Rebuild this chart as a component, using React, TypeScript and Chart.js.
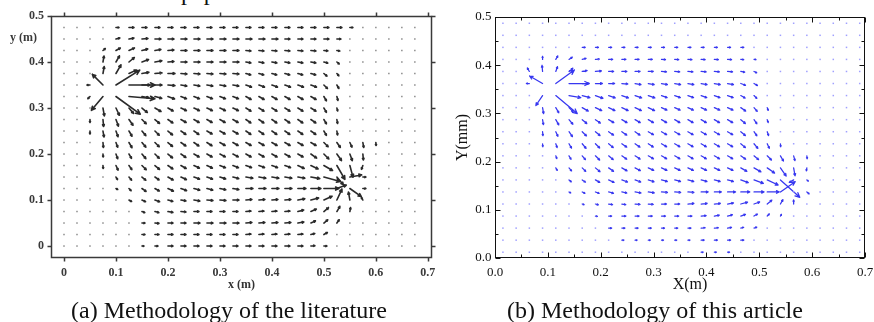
import React, { useEffect, useRef } from 'react';
import { Chart, registerables } from 'chart.js';
Chart.register(...registerables);

// ---------------- data: panel (a) ----------------
const LEFT_X = [0, 0.025, 0.05, 0.075, 0.1, 0.125, 0.15, 0.175, 0.2, 0.225, 0.25, 0.275, 0.3, 0.325, 0.35, 0.375, 0.4, 0.425, 0.45, 0.475, 0.5, 0.525, 0.55, 0.575, 0.6, 0.625, 0.65, 0.675];
const LEFT_Y = [0.475, 0.45, 0.425, 0.4, 0.375, 0.35, 0.325, 0.3, 0.275, 0.25, 0.225, 0.2, 0.175, 0.15, 0.125, 0.1, 0.075, 0.05, 0.025, 0];
// each token: direction (deg, counter-clockwise from +x) / magnitude ; "." = negligible
const LEFT_ROWS = [
  '. . . . 0/3 0/5 0/5 0/5 0/5 0/5 0/5 0/5 0/5 0/5 0/5 0/5 0/5 0/5 0/5 0/5 0/5 0/5 0/3 . . . . .',
  '. . . . 15/4 10/5 5/6 0/6 0/6 0/6 0/6 0/6 0/6 0/6 0/6 0/6 0/6 0/5 0/5 0/5 0/5 0/4 . . . . . .',
  '. . . 40/3 30/5 25/6 15/6 10/6 5/6 0/6 0/6 0/6 0/6 0/6 -5/5 -5/5 -5/5 -5/5 -5/5 -5/5 -5/4 -10/3 . . . . . .',
  '. . . 80/6 60/7 40/7 20/7 10/7 5/6 0/6 0/6 0/6 0/6 0/6 -10/5 -10/5 -10/5 -10/5 -10/5 -10/5 -15/4 -40/3 . . . . . .',
  '. . . 80/7 60/10 25/8 10/7 5/7 0/7 -5/6 -5/6 -5/6 -5/6 -5/6 -15/5 -15/5 -15/5 -15/5 -15/5 -15/5 -40/4 -50/3 . . . . . .',
  '. . 180/3 135/15 32/28 0/26 0/8 0/7 -5/7 -10/6 -10/6 -10/6 -10/6 -10/6 -20/6 -20/6 -20/6 -20/6 -20/6 -20/6 -45/5 -60/4 . . . . . .',
  '. . 225/3 230/18 -36/30 -5/26 -10/7 -15/7 -20/7 -22/6 -22/6 -22/6 -22/6 -22/6 -30/6 -30/6 -30/6 -30/6 -30/6 -30/6 -60/5 -75/4 . . . . . .',
  '. . . -80/8 -65/8 -50/7 -40/7 -30/7 -30/6 -25/6 -25/6 -25/6 -25/6 -25/6 -32/6 -32/6 -32/6 -32/6 -32/6 -32/6 -60/5 -75/3 . . . . . .',
  '. . -90/3 -85/7 -70/7 -55/7 -45/6 -40/6 -35/6 -30/6 -30/6 -30/6 -30/6 -30/6 -35/6 -35/6 -35/6 -35/6 -35/6 -35/6 -60/5 -80/4 . . . . . .',
  '. . -90/3 -80/6 -70/6 -60/6 -50/6 -45/6 -40/6 -35/6 -35/6 -30/6 -30/6 -30/6 -35/6 -35/6 -35/6 -35/6 -35/6 -35/6 -60/5 -80/4 . . . . . .',
  '. . . -85/5 -70/5 -60/6 -50/6 -45/6 -40/6 -35/6 -35/6 -33/6 -30/6 -30/6 -30/6 -30/6 -30/6 -30/6 -30/6 -30/6 -45/6 -55/6 -65/5 -80/5 -85/3 . . .',
  '. . . -85/3 -70/5 -60/5 -50/6 -45/6 -40/6 -35/6 -30/6 -30/6 -28/6 -28/6 -30/6 -30/6 -30/6 -30/6 -30/6 -35/7 -45/7 -55/8 -70/7 -85/6 . . . .',
  '. . . -85/3 -65/5 -55/5 -45/6 -40/6 -35/6 -30/6 -25/6 -25/6 -22/6 -22/6 -20/6 -20/6 -20/6 -20/6 -25/7 -25/8 -30/10 -60/16 -75/12 -110/4 . . . .',
  '. . . . -60/3 -50/4 -40/5 -35/5 -30/6 -25/6 -20/6 -20/6 -18/6 -15/6 -10/7 -10/7 -10/7 -10/7 -10/7 -10/9 -15/17 -50/10 10/12 0/3 . . . .',
  '. . . . -30/2 -45/3 -35/5 -30/5 -25/6 -20/6 -15/6 -15/6 -12/6 -10/6 0/7 0/7 0/7 0/7 0/8 0/10 0/15 20/10 -35/14 0/3 . . . .',
  '. . . . . -30/3 -25/4 -20/5 -15/5 -10/5 -10/6 -5/6 -5/6 0/6 5/6 5/6 5/6 5/6 10/7 15/8 25/9 65/12 100/8 120/3 . . . .',
  '. . . . . . -20/3 -15/4 -10/5 -5/5 0/5 0/5 0/5 0/5 5/5 5/5 5/5 5/5 15/6 25/6 40/6 60/6 80/4 . . . . .',
  '. . . . . . 0/3 -5/4 0/5 0/5 0/6 0/6 0/6 0/6 5/6 5/6 5/6 5/6 10/6 25/5 40/5 55/4 . . . . . .',
  '. . . . . . 0/3 0/4 0/5 0/5 0/5 0/5 0/5 0/5 5/5 5/5 5/5 5/5 5/5 15/4 30/4 . . . . . . .',
  '. . . . . . 0/2 0/3 0/5 0/5 0/5 0/5 0/5 0/5 0/5 0/5 0/5 0/5 0/5 5/4 0/3 . . . . . . .',
];
const LEFT_X_TICKS = [0, 0.1, 0.2, 0.3, 0.4, 0.5, 0.6, 0.7];
const LEFT_X_LABELS = ['0', '0.1', '0.2', '0.3', '0.4', '0.5', '0.6', '0.7'];
const LEFT_Y_TICKS = [0, 0.1, 0.2, 0.3, 0.4, 0.5];
const LEFT_Y_LABELS = ['0', '0.1', '0.2', '0.3', '0.4', '0.5'];

// ---------------- data: panel (b) ----------------
const RIGHT_X = [0.015, 0.04, 0.065, 0.09, 0.115, 0.14, 0.165, 0.19, 0.215, 0.24, 0.265, 0.29, 0.315, 0.34, 0.365, 0.39, 0.415, 0.44, 0.465, 0.49, 0.515, 0.54, 0.565, 0.59, 0.615, 0.64, 0.665, 0.69];
const RIGHT_Y = [0.487, 0.462, 0.437, 0.412, 0.387, 0.362, 0.337, 0.312, 0.287, 0.262, 0.237, 0.212, 0.187, 0.162, 0.137, 0.112, 0.087, 0.062, 0.037, 0.012];
const RIGHT_ROWS = [
  '. . . . . . . . . . . . . . . . . . . . . . . . . . . .',
  '. . . . . . . . . . . . . . . . . . . . . . . . . . . .',
  '. . . . . . 0/3 0/3 0/3 0/3 0/3 0/3 0/3 0/3 0/3 0/3 0/3 0/3 0/3 . . . . . . . . .',
  '. . . 90/3 60/4 35/4 15/4 5/4 0/4 0/4 0/4 0/4 -3/4 -3/4 -3/4 -3/4 -3/4 -3/4 -5/3 -5/2 . . . . . . . .',
  '. . 120/4 95/6 70/5 40/5 10/5 5/6 0/5 0/5 0/5 0/5 -5/5 -5/5 -5/5 -5/5 -5/5 -5/5 -10/4 -25/3 . . . . . . . .',
  '. . 180/3 150/15 36/23 0/20 0/7 0/7 0/6 -5/6 -10/6 -10/6 -10/6 -10/6 -10/6 -10/6 -10/6 -10/6 -20/5 -30/4 . . . . . . . .',
  '. . . 236/12 -40/28 -10/12 -15/8 -20/8 -20/7 -20/7 -20/7 -20/7 -20/6 -20/6 -20/6 -20/6 -20/6 -20/6 -30/5 -45/4 . . . . . . . .',
  '. . . -80/6 -60/6 -45/6 -30/7 -25/7 -25/7 -25/7 -25/7 -25/7 -25/6 -25/6 -25/6 -25/6 -25/6 -25/6 -35/6 -50/5 -70/3 . . . . . . .',
  '. . . -80/5 -60/6 -50/6 -40/6 -35/6 -30/6 -30/6 -30/6 -30/6 -30/6 -30/6 -30/6 -30/6 -30/6 -30/6 -40/6 -55/5 -70/3 . . . . . . .',
  '. . . -85/4 -65/5 -55/6 -45/6 -40/6 -35/6 -35/6 -35/6 -30/6 -30/6 -30/6 -30/6 -30/6 -30/6 -30/6 -40/6 -55/5 -70/4 . . . . . . .',
  '. . . -85/3 -70/4 -60/5 -50/6 -45/6 -40/6 -35/6 -35/6 -33/6 -30/6 -30/6 -30/6 -30/6 -30/6 -30/6 -40/6 -50/6 -65/5 -85/3 . . . . . .',
  '. . . . -70/3 -60/4 -50/5 -45/6 -40/6 -35/6 -33/6 -30/6 -30/6 -30/6 -30/6 -30/6 -30/6 -30/6 -35/6 -40/6 -45/6 -60/6 -75/5 -85/3 . . . .',
  '. . . . -60/3 -50/4 -45/5 -40/6 -35/6 -30/6 -28/6 -25/6 -25/6 -25/6 -25/6 -25/6 -25/6 -25/6 -30/7 -30/8 -35/9 -55/10 -80/8 -100/3 . . . .',
  '. . . . . -40/3 -35/4 -30/5 -25/6 -20/6 -20/6 -18/6 -15/6 -15/6 -15/6 -15/6 -15/6 -15/6 -20/8 -20/10 -25/12 -42/26 -150/5 -40/2 . . . .',
  '. . . . . -30/2 -25/3 -20/4 -15/5 -12/5 -10/6 -8/6 -5/6 -5/6 -5/6 0/7 0/7 0/8 0/9 0/10 0/12 35/18 . -40/3 . . . .',
  '. . . . . . -20/2 -15/3 -10/4 -10/4 -5/5 -5/5 0/5 0/5 5/6 5/6 5/6 10/6 15/7 20/6 40/6 60/5 90/4 . . . . .',
  '. . . . . . . -10/2 0/3 0/4 0/4 0/4 0/4 0/4 0/4 5/5 10/5 15/5 20/5 30/4 45/3 60/2 . . . . . .',
  '. . . . . . . . 0/3 0/3 0/3 0/3 0/3 0/3 0/3 5/4 5/4 10/4 15/3 20/3 . . . . . . . .',
  '. . . . . . . . . 0/2 0/2 0/2 0/2 0/2 0/2 0/3 0/3 0/3 0/3 . . . . . . . . .',
  '. . . . . . . . . . . . . . . 0/2 0/2 0/2 . . . . . . . . . .',
];
const RIGHT_X_TICKS = [0, 0.1, 0.2, 0.3, 0.4, 0.5, 0.6, 0.7];
const RIGHT_X_LABELS = ['0.0', '0.1', '0.2', '0.3', '0.4', '0.5', '0.6', '0.7'];
const RIGHT_X_MINOR = [0.05, 0.15, 0.25, 0.35, 0.45, 0.55, 0.65];
const RIGHT_Y_TICKS = [0, 0.1, 0.2, 0.3, 0.4, 0.5];
const RIGHT_Y_LABELS = ['0.0', '0.1', '0.2', '0.3', '0.4', '0.5'];
const RIGHT_Y_MINOR = [0.05, 0.15, 0.25, 0.35, 0.45];

// ---------------- helpers ----------------
type Vec = { x: number; y: number; a: number; m: number };

function buildPoints(xs: number[], ys: number[], rows: string[]): Vec[] {
  const pts: Vec[] = [];
  rows.forEach((row, i) => {
    row.trim().split(/\s+/).forEach((tok, j) => {
      if (j >= xs.length) return;
      if (tok === '.') pts.push({ x: xs[j], y: ys[i], a: 0, m: 0 });
      else {
        const [a, m] = tok.split('/').map(Number);
        pts.push({ x: xs[j], y: ys[i], a, m });
      }
    });
  });
  return pts;
}

function drawArrow(ctx: CanvasRenderingContext2D, x: number, y: number, ang: number, len: number) {
  const r = (ang * Math.PI) / 180;
  const ex = x + len * Math.cos(r);
  const ey = y - len * Math.sin(r);
  ctx.beginPath();
  ctx.moveTo(x, y);
  ctx.lineTo(ex, ey);
  const h = Math.min(5, 0.6 + len * 0.2);
  const back = r + Math.PI;
  for (const s of [-1, 1]) {
    const b = back + s * 0.45;
    ctx.moveTo(ex, ey);
    ctx.lineTo(ex + h * Math.cos(b), ey - h * Math.sin(b));
  }
  ctx.stroke();
}

function quiverPlugin(pts: Vec[], color: string, dot: string, lw: number, pxPerUnit: number) {
  return {
    id: 'quiver',
    afterDatasetsDraw(chart: any) {
      const ctx = chart.ctx as CanvasRenderingContext2D;
      const meta = chart.getDatasetMeta(0);
      ctx.save();
      ctx.lineCap = 'round';
      ctx.lineJoin = 'round';
      meta.data.forEach((el: any, i: number) => {
        const p = pts[i];
        if (!p) return;
        if (p.m <= 0) {
          ctx.fillStyle = dot;
          ctx.fillRect(el.x - 0.75, el.y - 0.75, 1.5, 1.5);
        } else {
          ctx.strokeStyle = color;
          ctx.lineWidth = lw;
          drawArrow(ctx, el.x, el.y, p.a, p.m * pxPerUnit);
        }
      });
      ctx.restore();
    },
  };
}

function framePlugin(opts: {
  color: string; width: number; inward: boolean; major: number; minor: number;
  xTicks: number[]; yTicks: number[]; xMinor: number[]; yMinor: number[];
  texts: { text: string; x: number; y: number; font: string; align: CanvasTextAlign }[];
}) {
  return {
    id: 'frame',
    afterDraw(chart: any) {
      const ctx = chart.ctx as CanvasRenderingContext2D;
      const { left, right, top, bottom } = chart.chartArea;
      const xs = chart.scales.x;
      const ys = chart.scales.y;
      ctx.save();
      ctx.strokeStyle = opts.color;
      ctx.lineWidth = opts.width;
      const L = Math.round(left) + 0.5, R = Math.round(right) - 0.5;
      const T = Math.round(top) + 0.5, B = Math.round(bottom) - 0.5;
      ctx.strokeRect(L, T, R - L, B - T);
      const d = opts.inward ? 1 : -1;
      const tickX = (v: number, len: number) => {
        const px = Math.round(xs.getPixelForValue(v)) + 0.5;
        ctx.moveTo(px, B); ctx.lineTo(px, B - d * len);
        ctx.moveTo(px, T); ctx.lineTo(px, T + d * len);
      };
      const tickY = (v: number, len: number) => {
        const py = Math.round(ys.getPixelForValue(v)) + 0.5;
        ctx.moveTo(L, py); ctx.lineTo(L + d * len, py);
        ctx.moveTo(R, py); ctx.lineTo(R - d * len, py);
      };
      ctx.beginPath();
      opts.xTicks.forEach((v) => tickX(v, opts.major));
      opts.yTicks.forEach((v) => tickY(v, opts.major));
      opts.xMinor.forEach((v) => tickX(v, opts.minor));
      opts.yMinor.forEach((v) => tickY(v, opts.minor));
      ctx.stroke();
      ctx.fillStyle = opts.color;
      opts.texts.forEach((t) => {
        ctx.font = t.font;
        ctx.textAlign = t.align;
        ctx.textBaseline = 'middle';
        ctx.fillText(t.text, t.x, t.y);
      });
      ctx.restore();
    },
  };
}

const SERIF = "'Liberation Serif', 'Times New Roman', serif";

function makeConfig(p: {
  pts: Vec[]; xMin: number; xMax: number; yMin: number; yMax: number;
  xTicks: number[]; xLabels: string[]; yTicks: number[]; yLabels: string[];
  padding: any; yWidth: number; xHeight: number; tickFont: any; tickColor: string;
  xPad: number; yPad: number; xTitle: any; yTitle: any; plugins: any[];
}) {
  return {
    type: 'scatter' as const,
    data: { datasets: [{ data: p.pts.map((q) => ({ x: q.x, y: q.y })), pointRadius: 0, pointHoverRadius: 0, showLine: false }] },
    options: {
      animation: false,
      responsive: false,
      events: [],
      layout: { padding: p.padding },
      plugins: { legend: { display: false }, tooltip: { enabled: false } },
      scales: {
        x: {
          type: 'linear', min: p.xMin, max: p.xMax,
          grid: { display: false, drawTicks: false },
          border: { display: false },
          afterBuildTicks: (s: any) => { s.ticks = p.xTicks.map((v) => ({ value: v })); },
          afterFit: (s: any) => { s.height = p.xHeight; s.paddingLeft = 0; s.paddingRight = 0; },
          ticks: { autoSkip: false, maxRotation: 0, padding: p.xPad, font: p.tickFont, color: p.tickColor, callback: (_v: any, i: number) => p.xLabels[i] },
          title: p.xTitle,
        },
        y: {
          type: 'linear', min: p.yMin, max: p.yMax,
          grid: { display: false, drawTicks: false },
          border: { display: false },
          afterBuildTicks: (s: any) => { s.ticks = p.yTicks.map((v) => ({ value: v })); },
          afterFit: (s: any) => { s.width = p.yWidth; s.paddingTop = 0; s.paddingBottom = 0; },
          ticks: { autoSkip: false, padding: p.yPad, font: p.tickFont, color: p.tickColor, callback: (_v: any, i: number) => p.yLabels[i] },
          title: p.yTitle,
        },
      },
    },
    plugins: p.plugins,
  };
}

export default function App() {
  const leftRef = useRef<HTMLCanvasElement>(null);
  const rightRef = useRef<HTMLCanvasElement>(null);

  useEffect(() => {
    const lp = buildPoints(LEFT_X, LEFT_Y, LEFT_ROWS);
    const rp = buildPoints(RIGHT_X, RIGHT_Y, RIGHT_ROWS);

    const left = new Chart(leftRef.current as HTMLCanvasElement, makeConfig({
      pts: lp, xMin: -0.025, xMax: 0.708, yMin: -0.026, yMax: 0.5,
      xTicks: LEFT_X_TICKS, xLabels: LEFT_X_LABELS, yTicks: LEFT_Y_TICKS, yLabels: LEFT_Y_LABELS,
      padding: { left: 0, top: 16, right: 8, bottom: 0 }, yWidth: 51, xHeight: 42,
      tickFont: { family: SERIF, size: 12, weight: 'bold' }, tickColor: '#3a3a3a', xPad: 8, yPad: 7,
      xTitle: { display: true, text: 'x (m)', color: '#333', font: { family: SERIF, size: 12, weight: 'bold' }, padding: { top: 0, bottom: 8 } },
      yTitle: { display: false },
      plugins: [
        quiverPlugin(lp, '#2a2a2a', '#8c8c8c', 1.6, 1),
        framePlugin({
          color: '#3a3a3a', width: 1.5, inward: false, major: 4, minor: 0,
          xTicks: LEFT_X_TICKS, yTicks: LEFT_Y_TICKS, xMinor: [], yMinor: [],
          texts: [{ text: 'y (m)', x: 10, y: 38, font: `bold 12px ${SERIF}`, align: 'left' }],
        }),
      ],
    }) as any);

    const right = new Chart(rightRef.current as HTMLCanvasElement, makeConfig({
      pts: rp, xMin: 0, xMax: 0.7, yMin: 0, yMax: 0.5,
      xTicks: RIGHT_X_TICKS, xLabels: RIGHT_X_LABELS, yTicks: RIGHT_Y_TICKS, yLabels: RIGHT_Y_LABELS,
      padding: { left: 0, top: 17, right: 9, bottom: 0 }, yWidth: 55, xHeight: 42,
      tickFont: { family: SERIF, size: 13 }, tickColor: '#111', xPad: 7, yPad: 3.5,
      xTitle: { display: false },
      yTitle: { display: true, text: 'Y(mm)', color: '#111', font: { family: SERIF, size: 16 }, padding: { top: 13.4, bottom: 0 } },
      plugins: [
        quiverPlugin(rp, 'rgb(55,55,240)', '#a0a0ff', 1.25, 1),
        framePlugin({
          color: '#111', width: 1, inward: true, major: 5, minor: 3,
          xTicks: RIGHT_X_TICKS, yTicks: RIGHT_Y_TICKS, xMinor: RIGHT_X_MINOR, yMinor: RIGHT_Y_MINOR,
          texts: [{ text: 'X(m)', x: 250, y: 285, font: `16px ${SERIF}`, align: 'center' }],
        }),
      ],
    }) as any);

    return () => { left.destroy(); right.destroy(); };
  }, []);

  const cap: React.CSSProperties = {
    position: 'absolute', top: 298, fontFamily: SERIF, fontSize: 24, lineHeight: '24px',
    whiteSpace: 'nowrap', color: '#111',
  };

  return (
    <div style={{ position: 'absolute', left: 0, top: 0, width: 874, height: 322, overflow: 'hidden', background: '#fff' }}>
      <div style={{ ...cap, top: -20, left: 181 }}>paper</div>
      <canvas ref={leftRef} width={440} height={300} style={{ position: 'absolute', left: 0, top: 0, width: 440, height: 300 }} />
      <canvas ref={rightRef} width={434} height={300} style={{ position: 'absolute', left: 440, top: 0, width: 434, height: 300 }} />
      <div style={{ ...cap, left: 71 }}>(a) Methodology of the literature</div>
      <div style={{ ...cap, left: 507 }}>(b) Methodology of this article</div>
    </div>
  );
}
